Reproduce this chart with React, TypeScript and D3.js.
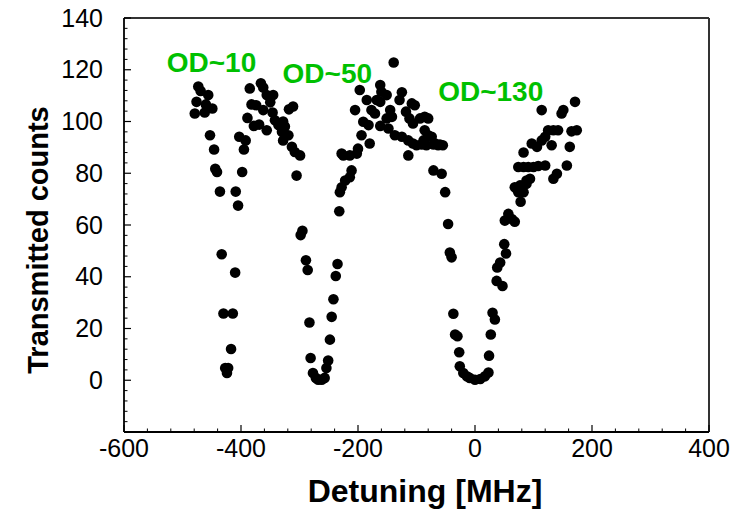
import React, { useEffect } from "react";
import * as d3 from "d3";

// [detuning MHz, transmitted counts]
const od10Points: [number, number][] = [
  [-473, 113.5], [-469, 111.8], [-456, 110.2], [-476, 107.6], [-460, 106.6], [-479, 103.1], [-462, 103.5],
  [-449, 105.0], [-453, 94.7], [-446, 89.2], [-444, 81.7], [-441, 80.5], [-436, 72.9], [-409, 72.9],
  [-398, 80.5], [-395, 89.2], [-392, 92.7], [-403, 94.1], [-405, 67.5], [-433, 48.7], [-410, 41.6],
  [-430, 25.8], [-414, 25.8], [-417, 12.1], [-427, 4.7], [-422, 4.7], [-424, 2.8],
];

const peak1Points: [number, number][] = [
  [-385, 112.8], [-382, 106.6], [-374, 106.3], [-389, 101.4], [-378, 98.3], [-369, 98.8], [-366, 114.8],
  [-362, 113.1], [-356, 110.2], [-345, 110.2], [-350, 107.4], [-362, 104.4], [-356, 96.6], [-346, 103.5],
  [-342, 100.5], [-336, 98.6], [-330, 96.0], [-328, 92.7], [-318, 104.7], [-311, 105.8], [-328, 100.0],
  [-325, 98.1], [-319, 94.7], [-313, 90.2], [-308, 88.2], [-299, 86.9], [-305, 79.1],
];

const od50Points: [number, number][] = [
  [-295, 57.8], [-298, 56.1], [-289, 46.4], [-286, 42.6], [-283, 22.3], [-281, 8.6], [-277, 2.8],
  [-272, 0.9], [-268, 0.2], [-262, 0.2], [-257, 0.9], [-254, 4.7], [-251, 7.6], [-248, 15.7],
  [-245, 24.5], [-242, 31.3], [-238, 40.3], [-235, 44.9], [-232, 65.3], [-231, 72.7], [-228, 74.6],
  [-222, 77.2], [-214, 78.5], [-211, 81.1], [-228, 87.6], [-225, 86.9], [-214, 86.9], [-202, 87.6],
  [-200, 89.5], [-205, 104.4], [-194, 94.7], [-197, 112.2], [-191, 99.9], [-185, 108.3], [-182, 98.6],
  [-180, 91.5], [-177, 104.4], [-171, 103.1], [-168, 108.3], [-162, 114.1], [-160, 111.5], [-162, 107.6],
  [-151, 110.2], [-162, 98.3], [-151, 101.2], [-145, 104.4], [-142, 101.8], [-148, 97.3], [-139, 122.8],
  [-137, 94.7], [-129, 108.3], [-125, 111.3], [-125, 94.1], [-118, 103.8], [-114, 92.7], [-112, 101.2],
  [-108, 107.0], [-106, 99.2], [-106, 91.5], [-103, 106.3], [-100, 90.8], [-94, 101.2], [-91, 91.1],
  [-86, 101.8], [-80, 101.2], [-86, 96.6], [-80, 94.7], [-88, 92.7], [-74, 94.1], [-68, 91.5],
  [-60, 91.1], [-83, 90.8], [-71, 91.1], [-63, 90.8], [-55, 90.8], [-114, 86.9], [-71, 81.1],
  [-57, 79.8], [-51, 72.7],
];

const od130Points: [number, number][] = [
  [-46, 60.4], [-43, 49.4], [-40, 47.5], [-37, 25.7], [-34, 17.7], [-30, 17.0], [-27, 10.8],
  [-26, 5.4], [-20, 2.8], [-14, 1.5], [-9, 0.9], [0, 0.2], [9, 0.5], [17, 1.5], [23, 3.0],
  [24, 9.5], [27, 17.7], [30, 26.1], [34, 23.5], [37, 38.4], [47, 36.4], [38, 43.6], [43, 45.5],
  [50, 52.6], [53, 49.0], [51, 61.7], [57, 64.3], [63, 62.3], [68, 61.3], [78, 69.0], [68, 74.6],
  [74, 72.7], [77, 75.3], [88, 77.2], [83, 72.7], [94, 77.9], [88, 75.9], [74, 82.4], [83, 82.4],
  [91, 82.4], [100, 82.4], [108, 82.8], [120, 83.0], [83, 88.0], [97, 91.5], [106, 90.2], [114, 92.7],
  [120, 94.1], [114, 104.4], [125, 96.6], [134, 96.6], [142, 96.6], [131, 90.8], [134, 77.9],
  [140, 79.8], [148, 103.1], [151, 104.4], [157, 83.0], [162, 90.2], [165, 96.2], [174, 96.6],
  [171, 107.6],
];

const xTicks = [-600, -400, -200, 0, 200, 400];
const yTicks = [0, 20, 40, 60, 80, 100, 120, 140];
const labels = ["OD~10", "OD~50", "OD~130"];
const labelX = [-527, -329, -63];
const labelY = [119, 115, 108];

const W = 735;
const H = 522;

export default function App() {
  useEffect(() => {
    document.body.style.margin = "0";
  }, []);

  const x = d3.scaleLinear().domain([-600, 400]).range([124, 709]);
  const y = d3.scaleLinear().domain([-20, 140]).range([432, 18]);

  const xMinor = d3.range(-600, 401, 40).filter((v) => v % 200 !== 0);
  const yMinor = d3.range(-20, 141, 4).filter((v) => v % 20 !== 0);

  const pts = [...od10Points, ...peak1Points, ...od50Points, ...od130Points];
  const font = "'Liberation Sans', Arial, Helvetica, sans-serif";

  return (
    <svg width={W} height={H} style={{ display: "block", background: "#fff" }}>
      {/* frame */}
      <line x1={x(-600)} x2={x(400)} y1={y(140)} y2={y(140)} stroke="#333" strokeWidth={2} />
      <line x1={x(400)} x2={x(400)} y1={y(140)} y2={y(-20)} stroke="#333" strokeWidth={2} />
      <line x1={x(-600)} x2={x(-600)} y1={y(140)} y2={y(-20)} stroke="#000" strokeWidth={1.8} />
      <line x1={x(-600)} x2={x(400)} y1={y(-20)} y2={y(-20)} stroke="#000" strokeWidth={1.8} />
      {/* x ticks */}
      {xTicks.map((t) => (
        <line key={"xt" + t} x1={x(t)} x2={x(t)} y1={y(-20)} y2={y(-20) - 7} stroke="#000" strokeWidth={1.2} />
      ))}
      {xMinor.map((t) => (
        <line key={"xm" + t} x1={x(t)} x2={x(t)} y1={y(-20)} y2={y(-20) - 3.5} stroke="#000" strokeWidth={1} />
      ))}
      {/* y ticks */}
      {yTicks.map((t) => (
        <line key={"yt" + t} x1={x(-600)} x2={x(-600) + 7} y1={y(t)} y2={y(t)} stroke="#000" strokeWidth={1.2} />
      ))}
      {yMinor.map((t) => (
        <line key={"ym" + t} x1={x(-600)} x2={x(-600) + 3.5} y1={y(t)} y2={y(t)} stroke="#000" strokeWidth={1} />
      ))}
      {/* tick labels */}
      {xTicks.map((t) => (
        <text key={"xl" + t} x={x(t)} y={457} textAnchor="middle" fontFamily={font} fontSize={25} fill="#000">
          {t}
        </text>
      ))}
      {yTicks.map((t) => (
        <text key={"yl" + t} x={103} y={y(t) + 8.5} textAnchor="end" fontFamily={font} fontSize={25} fill="#000">
          {t}
        </text>
      ))}
      {/* axis titles */}
      <text x={425} y={502} textAnchor="middle" fontFamily={font} fontSize={32} fontWeight="bold" fill="#000">
        Detuning [MHz]
      </text>
      <text
        transform={`translate(48, 240) rotate(-90)`}
        textAnchor="middle"
        fontFamily={font}
        fontSize={29}
        fontWeight="bold"
        fill="#000"
      >
        Transmitted counts
      </text>
      {/* points */}
      {pts.map(([a, b], i) => (
        <circle key={"p" + i} cx={x(a)} cy={y(b)} r={5.3} fill="#000" />
      ))}
      {/* OD labels */}
      {labels.map((l, i) => (
        <text key={l} x={x(labelX[i])} y={y(labelY[i])} fontFamily={font} fontSize={28} fontWeight="bold" fill="#00c000">
          {l}
        </text>
      ))}
    </svg>
  );
}
